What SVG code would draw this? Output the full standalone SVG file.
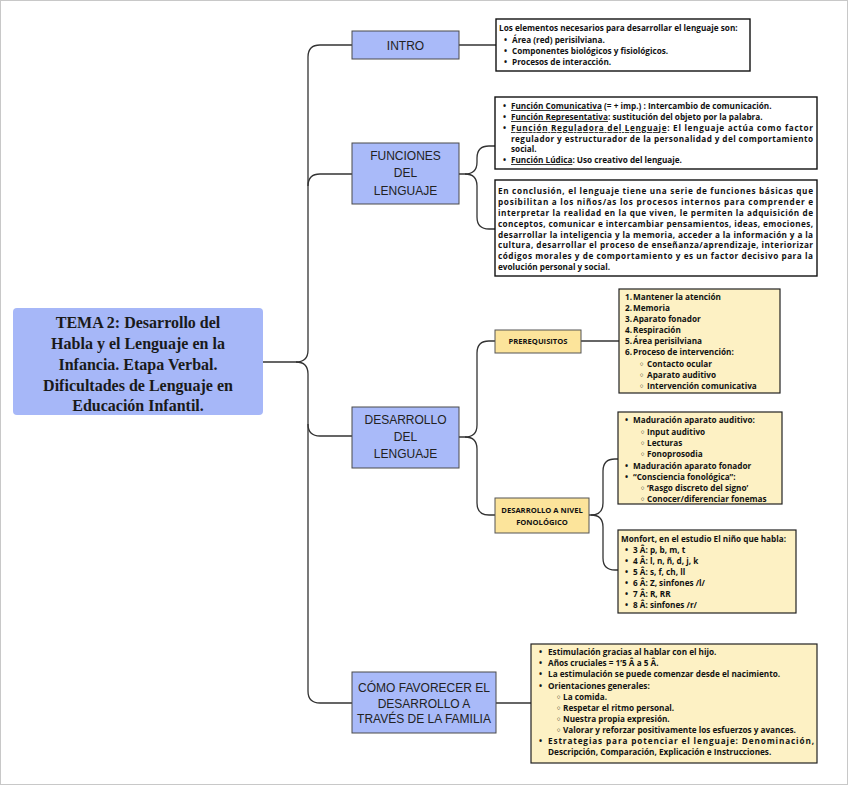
<svg xmlns="http://www.w3.org/2000/svg" width="848" height="785" viewBox="0 0 848 785">
<style>
.frame{fill:#fff;stroke:#c8c8c8;stroke-width:1}
.main{fill:#a6b7f8}
.mt{font-family:"Liberation Serif","DejaVu Serif",serif;font-weight:700;font-size:16px;fill:#1a1a1a;text-anchor:middle}
.bn{fill:#a9baf9;stroke:#4a4a4a;stroke-width:1}
.bt{font-family:"Liberation Sans","DejaVu Sans",sans-serif;font-size:12px;fill:#222;text-anchor:middle}
.wb{fill:#fff;stroke:#111;stroke-width:1.4}
.yb{fill:#fdf1c4;stroke:#222;stroke-width:1.2}
.yn{fill:#fce49b;stroke:#555;stroke-width:1}
.t{font-family:"Open Sans","Noto Sans","DejaVu Sans",sans-serif;font-weight:700;font-size:8.2px;fill:#111}
.nt{font-family:"Open Sans","Noto Sans","DejaVu Sans",sans-serif;font-weight:700;font-size:7.6px;fill:#111;text-anchor:middle}
.u{text-decoration:underline}
.c{fill:none;stroke:#333;stroke-width:1.3}
</style>
<rect class="frame" x="0.5" y="0.5" width="847" height="784"/>

<g id="connectors">
<path class="c" d="M263,362 H296 Q308,362 308,350 V57 Q308,45 320,45 H352"/>
<path class="c" d="M296,362 Q308,362 308,374 V691 Q308,703 320,703 H352"/>
<path class="c" d="M308,186 Q308,174 320,174 H352"/>
<path class="c" d="M308,424 Q308,436 320,436 H352"/>
<path class="c" d="M459,45 H496"/>
<path class="c" d="M459,174 H465 Q477,174 477,162 V158 Q477,146 489,146 H495"/>
<path class="c" d="M465,174 Q477,174 477,186 V217 Q477,229 489,229 H495"/>
<path class="c" d="M459,437 H465 Q477,437 477,425 V353 Q477,341 489,341 H495"/>
<path class="c" d="M465,437 Q477,437 477,449 V503 Q477,515 489,515 H495"/>
<path class="c" d="M581,341 H619"/>
<path class="c" d="M589,515 H591 Q603,515 603,503 V471 Q603,459 615,459 H618"/>
<path class="c" d="M591,515 Q603,515 603,527 V558 Q603,570 615,570 H618"/>
<path class="c" d="M496,703 H531"/>
</g>

<g id="main">
<rect class="main" x="13" y="308" width="250" height="107" rx="4"/>
<text class="mt" x="138" y="328">TEMA 2: Desarrollo del</text>
<text class="mt" x="138" y="349">Habla y el Lenguaje en la</text>
<text class="mt" x="138" y="370">Infancia. Etapa Verbal.</text>
<text class="mt" x="138" y="391">Dificultades de Lenguaje en</text>
<text class="mt" x="138" y="411">Educación Infantil.</text>
</g>

<g id="intro">
<rect class="bn" x="352" y="31" width="107" height="28"/>
<text class="bt" x="405.5" y="49.5">INTRO</text>
</g>

<g id="funciones">
<rect class="bn" x="352" y="143" width="107" height="61"/>
<text class="bt" x="405.5" y="159.5">FUNCIONES</text>
<text class="bt" x="405.5" y="177">DEL</text>
<text class="bt" x="405.5" y="194.5">LENGUAJE</text>
</g>

<g id="desarrollo">
<rect class="bn" x="352" y="407" width="107" height="61"/>
<text class="bt" x="405.5" y="423.5">DESARROLLO</text>
<text class="bt" x="405.5" y="441">DEL</text>
<text class="bt" x="405.5" y="458">LENGUAJE</text>
</g>

<g id="familia">
<rect class="bn" x="352" y="672" width="144" height="61"/>
<text class="bt" x="424" y="691.5">CÓMO FAVORECER EL</text>
<text class="bt" x="424" y="707.5">DESARROLLO A</text>
<text class="bt" x="424" y="722.5">TRAVÉS DE LA FAMILIA</text>
</g>

<g id="intro-text">
<rect class="wb" x="496" y="19" width="254" height="52"/>
<text class="t" x="499" y="31">Los elementos necesarios para desarrollar el lenguaje son:</text>
<text class="t" x="504" y="43">•</text><text class="t" x="512" y="43">Área (red) perisilviana.</text>
<text class="t" x="504" y="54">•</text><text class="t" x="512" y="54">Componentes biológicos y fisiológicos.</text>
<text class="t" x="504" y="65">•</text><text class="t" x="512" y="65">Procesos de interacción.</text>
</g>

<g id="funciones-text">
<rect class="wb" x="495" y="97" width="322" height="72"/>
<text class="t" x="503" y="109">•</text><text class="t" x="511" y="109"><tspan class="u">Función Comunicativa</tspan> (= + imp.) : Intercambio de comunicación.</text>
<text class="t" x="503" y="120">•</text><text class="t" x="511" y="120"><tspan class="u">Función Representativa</tspan>: sustitución del objeto por la palabra.</text>
<text class="t" x="503" y="131">•</text><text class="t" x="511" y="131" textLength="302" lengthAdjust="spacing"><tspan class="u">Función Reguladora del Lenguaje</tspan>: El lenguaje actúa como factor</text>
<text class="t" x="511" y="142" textLength="302" lengthAdjust="spacing">regulador y estructurador de la personalidad y del comportamiento</text>
<text class="t" x="511" y="152">social.</text>
<text class="t" x="503" y="163">•</text><text class="t" x="511" y="163"><tspan class="u">Función Lúdica</tspan>: Uso creativo del lenguaje.</text>
</g>

<g id="conclusion">
<rect class="wb" x="495" y="180" width="322" height="96"/>
<text class="t" x="498" y="194" textLength="315" lengthAdjust="spacing">En conclusión, el lenguaje tiene una serie de funciones básicas que</text>
<text class="t" x="498" y="205" textLength="315" lengthAdjust="spacing">posibilitan a los niños/as los procesos internos para comprender e</text>
<text class="t" x="498" y="216" textLength="315" lengthAdjust="spacing">interpretar la realidad en la que viven, le permiten la adquisición de</text>
<text class="t" x="498" y="227" textLength="315" lengthAdjust="spacing">conceptos, comunicar e intercambiar pensamientos, ideas, emociones,</text>
<text class="t" x="498" y="237.5" textLength="315" lengthAdjust="spacing">desarrollar la inteligencia y la memoria, acceder a la información y a la</text>
<text class="t" x="498" y="248" textLength="315" lengthAdjust="spacing">cultura, desarrollar el proceso de enseñanza/aprendizaje, interiorizar</text>
<text class="t" x="498" y="259" textLength="315" lengthAdjust="spacing">códigos morales y de comportamiento y es un factor decisivo para la</text>
<text class="t" x="498" y="270">evolución personal y social.</text>
</g>

<g id="prerequisitos">
<rect class="yn" x="495" y="330" width="86" height="23"/>
<text class="nt" x="538" y="344">PREREQUISITOS</text>
</g>

<g id="prerequisitos-text">
<rect class="yb" x="619" y="289" width="161" height="104"/>
<text class="t" x="625" y="300">1.</text><text class="t" x="633" y="300">Mantener la atención</text>
<text class="t" x="625" y="311">2.</text><text class="t" x="633" y="311">Memoria</text>
<text class="t" x="625" y="322">3.</text><text class="t" x="633" y="322">Aparato fonador</text>
<text class="t" x="625" y="333">4.</text><text class="t" x="633" y="333">Respiración</text>
<text class="t" x="625" y="344">5.</text><text class="t" x="633" y="344">Área perisilviana</text>
<text class="t" x="625" y="355">6.</text><text class="t" x="633" y="355">Proceso de intervención:</text>
<text class="t" x="639" y="367">◦</text><text class="t" x="647" y="367">Contacto ocular</text>
<text class="t" x="639" y="378">◦</text><text class="t" x="647" y="378">Aparato auditivo</text>
<text class="t" x="639" y="389">◦</text><text class="t" x="647" y="389">Intervención comunicativa</text>
</g>

<g id="fonologico">
<rect class="yn" x="495" y="498" width="94" height="35"/>
<text class="nt" x="542" y="512.5">DESARROLLO A NIVEL</text>
<text class="nt" x="542" y="524.5">FONOLÓGICO</text>
</g>

<g id="fonologico-text">
<rect class="yb" x="618" y="412" width="164" height="92"/>
<text class="t" x="625" y="423">•</text><text class="t" x="633" y="423">Maduración aparato auditivo:</text>
<text class="t" x="640" y="434.5">◦</text><text class="t" x="647" y="434.5">Input auditivo</text>
<text class="t" x="640" y="446">◦</text><text class="t" x="647" y="446">Lecturas</text>
<text class="t" x="640" y="457">◦</text><text class="t" x="647" y="457">Fonoprosodia</text>
<text class="t" x="625" y="468.5">•</text><text class="t" x="633" y="468.5">Maduración aparato fonador</text>
<text class="t" x="625" y="480">•</text><text class="t" x="633" y="480">“Consciencia fonológica”:</text>
<text class="t" x="640" y="491">◦</text><text class="t" x="647" y="491">‘Rasgo discreto del signo’</text>
<text class="t" x="640" y="502">◦</text><text class="t" x="647" y="502">Conocer/diferenciar fonemas</text>
</g>

<g id="monfort">
<rect class="yb" x="618" y="530" width="178" height="83"/>
<text class="t" x="621" y="542" textLength="165" lengthAdjust="spacingAndGlyphs">Monfort, en el estudio El niño que habla:</text>
<text class="t" x="625" y="553">•</text><text class="t" x="633" y="553">3 Â: p, b, m, t</text>
<text class="t" x="625" y="564">•</text><text class="t" x="633" y="564">4 Â: l, n, ñ, d, j, k</text>
<text class="t" x="625" y="575">•</text><text class="t" x="633" y="575">5 Â: s, f, ch, ll</text>
<text class="t" x="625" y="586">•</text><text class="t" x="633" y="586">6 Â: Z, sinfones /l/</text>
<text class="t" x="625" y="597">•</text><text class="t" x="633" y="597">7 Â: R, RR</text>
<text class="t" x="625" y="608">•</text><text class="t" x="633" y="608">8 Â: sinfones /r/</text>
</g>

<g id="familia-text">
<rect class="yb" x="531" y="644" width="286" height="119"/>
<text class="t" x="539" y="655">•</text><text class="t" x="548" y="655">Estimulación gracias al hablar con el hijo.</text>
<text class="t" x="539" y="666">•</text><text class="t" x="548" y="666">Años cruciales = 1’5 Â a 5 Â.</text>
<text class="t" x="539" y="677">•</text><text class="t" x="548" y="677">La estimulación se puede comenzar desde el nacimiento.</text>
<text class="t" x="539" y="688.5">•</text><text class="t" x="548" y="688.5">Orientaciones generales:</text>
<text class="t" x="556" y="699.5">◦</text><text class="t" x="563" y="699.5">La comida.</text>
<text class="t" x="556" y="710.5">◦</text><text class="t" x="563" y="710.5">Respetar el ritmo personal.</text>
<text class="t" x="556" y="721.5">◦</text><text class="t" x="563" y="721.5">Nuestra propia expresión.</text>
<text class="t" x="556" y="732.5">◦</text><text class="t" x="563" y="732.5">Valorar y reforzar positivamente los esfuerzos y avances.</text>
<text class="t" x="539" y="744">•</text><text class="t" x="548" y="744" textLength="266" lengthAdjust="spacing">Estrategias para potenciar el lenguaje: Denominación,</text>
<text class="t" x="548" y="755">Descripción, Comparación, Explicación e Instrucciones.</text>
</g>
</svg>
